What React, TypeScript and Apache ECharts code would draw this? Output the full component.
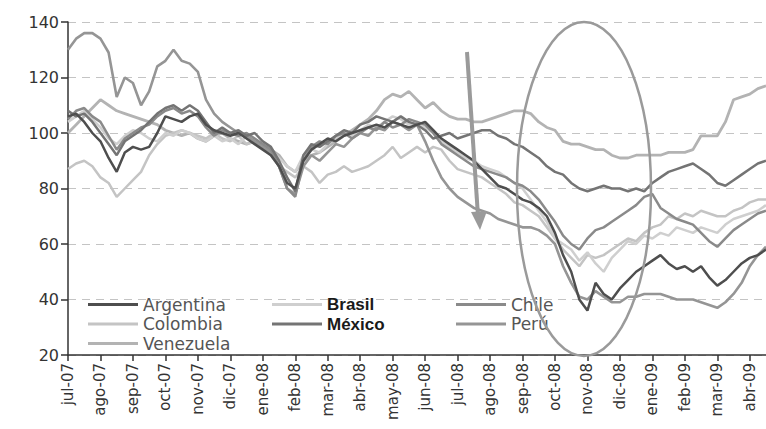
import React, { useEffect, useRef } from "react";
import * as echarts from "echarts";

// Month labels (one tick per month); 4 points per month (approx. weekly)
const months = [
  "jul-07", "ago-07", "sep-07", "oct-07", "nov-07", "dic-07",
  "ene-08", "feb-08", "mar-08", "abr-08", "may-08", "jun-08",
  "jul-08", "ago-08", "sep-08", "oct-08", "nov-08", "dic-08",
  "ene-09", "feb-09", "mar-09", "abr-09",
];

const argentina = [
  106, 107, 104, 100, 97, 91, 86, 93, 95, 94,
  95, 100, 106, 105, 104, 106, 107, 103, 101, 100,
  99, 100, 98, 96, 94, 92, 88, 82, 80, 90,
  94, 96, 98, 97, 99, 100, 101, 102, 103, 102,
  104, 103, 102, 103, 104, 101, 98, 96, 94, 92,
  90, 87, 84, 81, 80, 78, 76, 75, 73, 70,
  64, 56, 50, 40, 36, 46, 42, 40, 44, 47,
  50, 52, 54, 56, 53, 51, 52, 50, 52, 48,
  45, 47, 50, 53, 55, 56, 58,
];

const brasil = [
  104, 106, 108, 105, 102, 98, 96, 99, 101, 100,
  98, 97, 100, 99, 101, 100, 98, 97, 99, 97,
  98, 96, 99, 97, 95, 94, 91, 88, 86, 92,
  94, 93, 96, 98, 100, 99, 101, 103, 102, 104,
  106, 105, 103, 104, 102, 100, 97, 95, 93, 91,
  90, 88, 87, 86, 84, 82, 80, 76, 72, 68,
  62, 60, 58, 54, 57, 53, 50, 55, 58, 61,
  60, 63, 62, 64, 63, 66, 65, 64, 66, 65,
  64, 67, 69, 70, 71, 72, 74,
];

const chile = [
  105, 108, 109, 106, 104, 99, 94, 98, 100, 102,
  103, 106, 108, 109, 107, 108, 106, 102, 99, 101,
  100, 99, 100, 98, 96, 94, 88, 80, 77, 90,
  95, 97, 96, 99, 100, 98, 100, 102, 101, 104,
  102, 103, 105, 104, 103, 100, 96, 94, 92, 90,
  88, 87, 86, 85, 84, 82, 81, 79, 76, 72,
  68, 63, 60, 58, 62, 65, 66, 68, 70, 72,
  74, 77, 78, 73, 71, 69, 68, 67, 64, 61,
  59, 62, 65, 67, 69, 71, 72,
];

const colombia = [
  87, 89, 90, 88, 84, 82, 77, 80, 83, 86,
  92, 96, 99, 100, 101, 100, 99, 98, 100, 98,
  97, 99, 96, 97, 95, 92, 88, 86, 84, 88,
  86, 82, 85, 86, 88, 86, 87, 88, 90, 92,
  95, 91, 93, 95, 93, 95, 94, 90, 87, 86,
  85, 84, 82, 80, 78, 75, 74, 72, 70, 66,
  62, 58, 55, 52, 56, 55, 56, 58, 60, 62,
  61, 64, 66, 67, 70, 69, 71, 70, 72, 71,
  70, 70, 72, 73, 75, 76, 76,
];

const mexico = [
  108, 106, 107, 104, 100, 96, 92, 97, 99, 101,
  104, 107, 109, 110, 108, 110, 108, 104, 100, 102,
  100, 101, 99, 100, 97, 95, 90, 84, 79, 92,
  96, 95, 97, 99, 101, 100, 103, 104, 106, 105,
  104, 106, 104, 103, 101, 98, 99, 100, 98, 99,
  100, 101, 101, 99, 98, 96, 95, 93, 91, 88,
  86, 85, 82, 80, 79, 80, 81, 80, 80, 79,
  80, 79, 82, 84, 86, 87, 88, 89, 87, 85,
  82, 81, 83, 85, 87, 89, 90,
];

const peru = [
  130, 134, 136, 136, 134, 129, 113, 120, 118, 110,
  115, 124, 126, 130, 126, 125, 122, 112, 107, 104,
  102, 100, 99, 97, 95, 93, 88, 80, 78, 88,
  92, 90, 93, 96, 95, 98, 100, 99, 102, 101,
  104, 103, 101, 103, 97, 90, 84, 80, 77, 75,
  73, 72, 71, 69, 68, 67, 66, 66, 65, 63,
  60, 52, 46, 41, 40, 43, 41, 39, 39, 41,
  41, 42, 42, 42, 41, 40, 40, 40, 39, 38,
  37, 39, 42, 46, 52, 56, 59,
];

const venezuela = [
  100, 103, 106, 109, 112, 110, 108, 107, 106, 105,
  104, 103, 101, 100, 99, 100, 98, 97, 99, 100,
  98, 97, 96, 97, 95, 94, 92, 88, 86, 90,
  92, 93, 95, 97, 99, 101, 103, 105, 108, 112,
  114, 113, 115, 112, 109, 111, 108, 106, 105, 105,
  104, 104, 105, 106, 107, 108, 108, 107, 104, 102,
  101, 97, 96, 96, 95, 94, 94, 92, 91, 91,
  92, 92, 92, 92, 93, 93, 93, 94, 99, 99,
  99, 104, 112, 113, 114, 116, 117,
];

const categories = months
  .flatMap((m) => [m, m + "·2", m + "·3", m + "·4"])
  .slice(0, argentina.length);

const seriesDefs = [
  { name: "Venezuela", data: venezuela, color: "#b3b3b3", width: 2.8 },
  { name: "Colombia", data: colombia, color: "#c4c4c4", width: 2.5 },
  { name: "Brasil", data: brasil, color: "#cfcfcf", width: 2.5 },
  { name: "Perú", data: peru, color: "#959595", width: 2.6 },
  { name: "Chile", data: chile, color: "#8a8a8a", width: 2.5 },
  { name: "México", data: mexico, color: "#747474", width: 2.5 },
  { name: "Argentina", data: argentina, color: "#4e4e4e", width: 2.5 },
];

const legendFont = { fontFamily: "DejaVu Sans", fontSize: 17, color: "#555", lineHeight: 17 };
const legendBold = { fontFamily: "Liberation Sans", fontSize: 17, color: "#1a1a1a", fontWeight: "bold" as const, lineHeight: 17 };

export default function App() {
  const ref = useRef<HTMLDivElement>(null);
  useEffect(() => {
    if (!ref.current) return;
    const chart = echarts.init(ref.current, null, { renderer: "svg" });
    const legendBase = {
      orient: "vertical" as const,
      top: 296,
      itemWidth: 50,
      itemHeight: 3,
      itemGap: 2.5,
      icon: "rect",
      selectedMode: false,
      padding: 0,
    };
    chart.setOption({
      animation: false,
      backgroundColor: "#ffffff",
      grid: { left: 68, right: 0, top: 22, bottom: 74, containLabel: false },
      xAxis: {
        type: "category",
        data: categories,
        boundaryGap: false,
        axisLine: { lineStyle: { color: "#333", width: 1.5 } },
        axisTick: { interval: 3, length: 6, lineStyle: { color: "#333", width: 1.5 } },
        axisLabel: {
          interval: 3,
          rotate: 90,
          margin: 8,
          fontFamily: "DejaVu Sans",
          fontSize: 15,
          color: "#333",
          formatter: (v: string) => v.split("·")[0],
        },
        splitLine: { show: false },
      },
      yAxis: {
        type: "value",
        min: 20,
        max: 140,
        interval: 20,
        axisLine: { show: true, lineStyle: { color: "#333", width: 1.5 } },
        axisTick: { show: true, length: 7, lineStyle: { color: "#333", width: 1.5 } },
        axisLabel: { fontFamily: "DejaVu Sans", fontSize: 16, color: "#333", margin: 9 },
        splitLine: { show: true, lineStyle: { color: "#c4c4c4", type: [8, 6], width: 1 } },
      },
      legend: [
        { ...legendBase, left: 88, data: ["Argentina", "Colombia", "Venezuela"], textStyle: legendFont },
        {
          ...legendBase,
          left: 272,
          data: ["Brasil", "México"],
          textStyle: legendBold,
        },
        { ...legendBase, left: 456, data: ["Chile", "Perú"], textStyle: legendFont },
      ],
      series: seriesDefs.map((s) => ({
        name: s.name,
        type: "line",
        data: s.data,
        showSymbol: false,
        symbol: "none",
        color: s.color,
        lineStyle: { color: s.color, width: s.width },
        emphasis: { disabled: true },
      })),
      graphic: [
        {
          type: "ellipse",
          shape: { cx: 584, cy: 189, rx: 67, ry: 167 },
          style: { fill: "none", stroke: "#9a9a9a", lineWidth: 2.5 },
          z: 100,
        },
        {
          type: "line",
          shape: { x1: 467, y1: 52, x2: 478, y2: 216 },
          style: { stroke: "#9a9a9a", lineWidth: 4 },
          z: 100,
        },
        {
          type: "polygon",
          shape: { points: [[471, 212], [487, 211], [480, 230]] },
          style: { fill: "#9a9a9a" },
          z: 100,
        },
      ],
    });
    return () => chart.dispose();
  }, []);
  return (
    <div
      ref={ref}
      style={{ position: "fixed", left: 0, top: 0, width: 766, height: 429, background: "#fff" }}
    />
  );
}
